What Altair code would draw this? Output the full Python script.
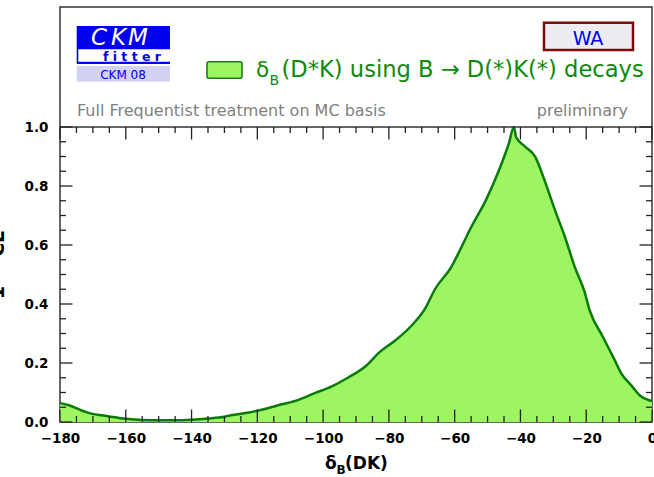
import altair as alt
import pandas as pd

# Profile of 1 - CL versus the strong phase delta_B(D*K), in degrees
delta_deg = [-180, -177, -174, -171, -165, -160, -155, -150, -145, -140,
             -135, -130, -127.5, -122.5, -117.5, -112.5, -107.5, -102.5,
             -97.5, -92.5, -87, -83, -78, -73, -69, -66, -61, -58.5, -55,
             -50.5, -46.5, -43.5, -42, -41.3, -38.5, -35.5, -32.5, -29.5,
             -26.5, -23.5, -20.5, -19, -15, -11.3, -9.3, -6.3, -3.7, -0.7, 0]
one_minus_cl = [0.064, 0.056, 0.042, 0.030, 0.019, 0.011, 0.007, 0.006, 0.006,
                0.008, 0.012, 0.018, 0.024, 0.032, 0.045, 0.060, 0.075, 0.098,
                0.12, 0.15, 0.19, 0.235, 0.277, 0.328, 0.384, 0.45, 0.526,
                0.58, 0.66, 0.752, 0.854, 0.945, 1.0, 0.965, 0.933, 0.899,
                0.814, 0.718, 0.628, 0.526, 0.441, 0.38, 0.29, 0.209, 0.164,
                0.124, 0.09, 0.073, 0.071]

x_major = [-180, -160, -140, -120, -100, -80, -60, -40, -20, 0]
x_minor = [v for v in range(-180, 1, 5) if v % 20]
y_major = [0.0, 0.2, 0.4, 0.6, 0.8, 1.0]
y_minor = [round(0.05 * i, 2) for i in range(21) if i % 4]

W, H = 592, 415          # framed box, header band included
BAND = 120               # header band height in px above the 1 - CL = 1 line
Y_MAX = H / (H - BAND)   # y value at the top of the frame

FILL = "#9ef562"
LINE = "#0a7a0a"
GREEN_TXT = "#0b8a0b"
GREY_TXT = "#808080"
BLUE = "#0000ee"
TICK = "#222222"
FONT = "DejaVu Sans"

xs = alt.Scale(domain=[-180, 0], nice=False, zero=False)
ys = alt.Scale(domain=[0, Y_MAX], nice=False, zero=False)
X_AXIS = alt.Axis(values=x_major, format="d", title=None)
Y_AXIS = alt.Axis(values=y_major, format=".1f", title=None)


def xq(field):
    return alt.X(field, type="quantitative", scale=xs, axis=X_AXIS)


def yq(field):
    return alt.Y(field, type="quantitative", scale=ys, axis=Y_AXIS)


curve = pd.DataFrame({"delta": delta_deg, "cl": one_minus_cl})
one = pd.DataFrame({"a": [0]})

area = alt.Chart(curve).mark_area(color=FILL, opacity=1, interpolate="monotone").encode(
    x=xq("delta"), y=yq("cl"))
line = alt.Chart(curve).mark_line(color=LINE, strokeWidth=2.5, interpolate="monotone").encode(
    x=xq("delta"), y=yq("cl"))


def xticks(values, length):
    d = pd.DataFrame({"v": values})
    bottom = alt.Chart(d).mark_rule(color=TICK, strokeWidth=1.3).encode(
        x=xq("v"), y=alt.value(H), y2=alt.value(H - length))
    top = alt.Chart(d).mark_rule(color=TICK, strokeWidth=1.3).encode(
        x=xq("v"), y=alt.value(BAND), y2=alt.value(BAND + length))
    return [bottom, top]


def yticks(values, length):
    d = pd.DataFrame({"v": values})
    left = alt.Chart(d).mark_rule(color=TICK, strokeWidth=1.3).encode(
        y=yq("v"), x=alt.value(0), x2=alt.value(length))
    right = alt.Chart(d).mark_rule(color=TICK, strokeWidth=1.3).encode(
        y=yq("v"), x=alt.value(W), x2=alt.value(W - length))
    return [left, right]


top_line = alt.Chart(pd.DataFrame({"v": [1.0]})).mark_rule(color="#333333", strokeWidth=1.5).encode(
    y=yq("v"), x=alt.value(0), x2=alt.value(W))


def box(x1, x2, y1, y2, **kw):
    return alt.Chart(one).mark_rect(**kw).encode(
        x=alt.value(x1), x2=alt.value(x2), y=alt.value(y1), y2=alt.value(y2))


def label(text, x, y, size, color, weight="normal", align="left", style="normal",
          angle=0, baseline="alphabetic"):
    return alt.Chart(one).mark_text(
        text=text, font=FONT, fontSize=size, color=color, fontWeight=weight,
        align=align, fontStyle=style, angle=angle, baseline=baseline
    ).encode(x=alt.value(x), y=alt.value(y))


header = [
    # CKMfitter logo
    box(16.7, 110, 19, 57, color=BLUE),
    box(18.3, 110, 42.3, 54.7, color="white"),
    box(16.7, 110, 59, 74.7, color="#d2d2f3"),
    label("C", 31, 38, 23, "white", style="italic"),
    label("K", 51, 38, 23, "white", style="italic"),
    label("M", 68, 38, 23, "white", style="italic"),
    label("f i t t e r", 101, 53.5, 12.5, BLUE, weight="bold", align="right"),
    label("CKM 08", 63, 72, 12, BLUE, align="center"),
    # WA tag
    box(484, 573, 15.7, 43, fill="#ececf2", stroke="#7a0c0c", strokeWidth=2.5),
    label("WA", 528, 38, 19, BLUE, align="center"),
    # legend entry
    box(147, 182, 54.7, 71.3, fill=FILL, stroke="#1b7d1b", strokeWidth=1.6, cornerRadius=2),
    label("\u03b4", 196, 70, 21.5, GREEN_TXT),
    label("B", 209.5, 78, 14, GREEN_TXT),
    label("(D*K) using B \u2192 D(*)K(*) decays", 221.5, 70, 22.6, GREEN_TXT),
    # notes
    label("Full Frequentist treatment on MC basis", 17, 108.5, 16, GREY_TXT),
    label("preliminary", 568, 108.5, 16, GREY_TXT, align="right"),
    # axis titles
    label("\u03b4", 265, 462, 17, "black", weight="bold"),
    label("B", 276.5, 467, 12, "black", weight="bold"),
    label("(DK)", 285, 462, 17, "black", weight="bold"),
    label("1 \u2212 CL", -56, 258, 19, "black", weight="bold", angle=270, align="center"),
]

layers = ([area, line, top_line]
          + xticks(x_minor, 6) + xticks(x_major, 12.5)
          + yticks(y_minor, 6) + yticks(y_major, 12.5)
          + header)

chart = alt.layer(*layers).properties(
    width=W, height=H,
    autosize=alt.AutoSizeParams(type="none"),
    padding={"left": 60, "top": 7, "right": 2, "bottom": 55},
    background="white",
).configure_view(
    stroke="#333333", strokeWidth=1.5
).configure_axis(
    ticks=False, domain=False, grid=False,
    labelFont=FONT, labelFontWeight="bold", labelFontSize=13.5, labelColor="black",
    labelFlush=False, labelOverlap=False,
).configure_axisX(labelPadding=9).configure_axisY(labelPadding=12)

chart.save("out.html", embed_options={"renderer": "svg", "actions": False})
